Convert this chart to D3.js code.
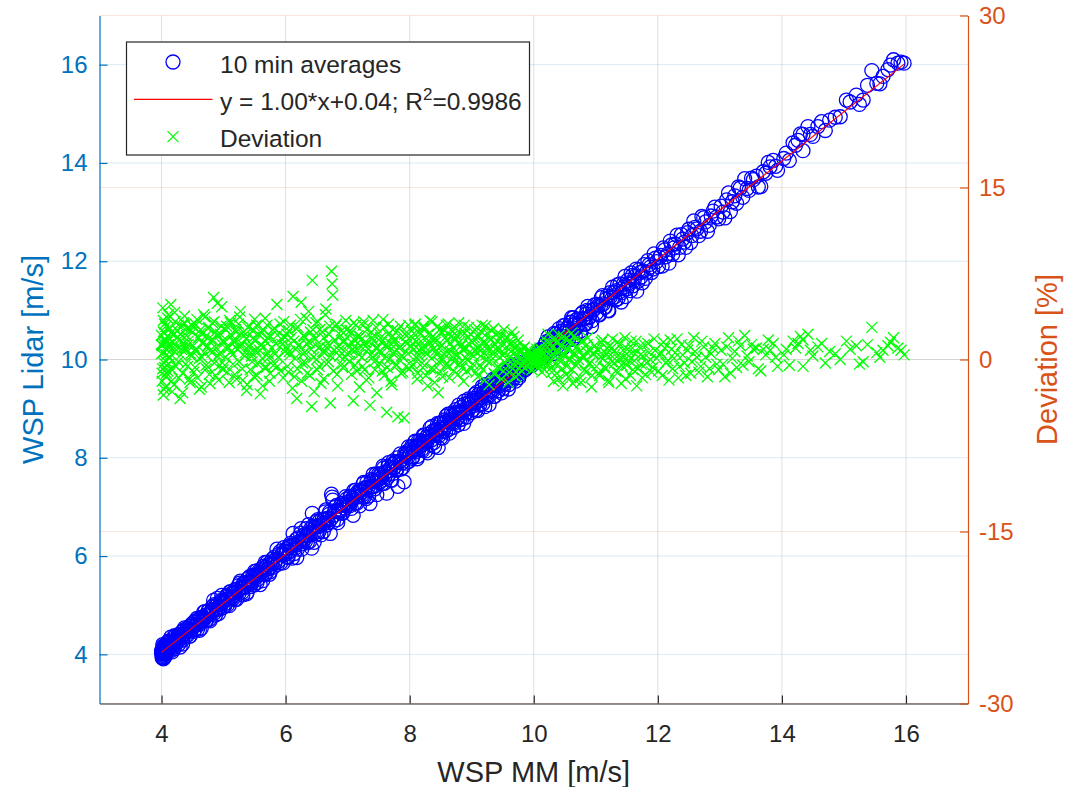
<!DOCTYPE html>
<html>
<head>
<meta charset="utf-8">
<script src="https://cdn.jsdelivr.net/npm/d3@7"></script>
<style>
    body { margin: 0; background: #fff; }
    svg text { font-family: "Liberation Sans", Arial, sans-serif; }
</style>
</head>
<body>
<svg id="chart" width="1078" height="787"></svg>
<script>
// 10 min averages: mast (MM) speed, lidar speed, deviation in %
const wspMM = [
    4.01,4.02,4.03,4.00,4.04,4.05,4.06,4.02,4.07,4.08,4.03,4.09,4.11,4.12,4.10,4.14,4.13,4.16,4.15,4.18,4.19,4.17,4.21,4.22,4.24,4.20,4.27,4.26,4.29,4.30,4.31,4.33,4.35,4.34,4.37,4.38,4.40,4.42,4.43,4.45,4.46,4.48,4.49,4.06,4.12,
    4.00,4.01,4.03,4.05,4.04,4.08,
    4.51,4.52,4.54,4.55,4.57,4.58,4.60,4.61,4.63,4.64,4.66,4.68,4.69,4.71,4.72,4.74,4.75,4.77,4.79,4.80,4.82,4.84,4.85,4.87,4.88,4.90,4.92,4.93,4.95,4.97,4.98,4.99,
    5.01,5.03,5.05,5.06,5.08,5.10,5.12,5.13,5.15,5.17,5.19,5.21,5.22,5.24,5.27,5.28,5.30,5.32,5.34,5.36,5.38,5.40,5.42,5.44,5.46,5.48,5.50,5.52,5.54,5.56,5.59,5.60,5.62,5.64,5.66,5.68,5.70,5.72,5.74,5.76,5.78,5.80,5.82,5.84,5.86,5.88,5.90,5.92,5.95,5.97,5.99,
    6.01,6.03,6.05,6.07,6.09,6.12,6.14,6.16,6.18,6.20,6.22,6.25,6.27,6.29,6.31,6.33,6.35,6.38,6.40,6.42,6.43,6.45,6.47,6.49,6.51,6.53,6.55,6.57,6.60,6.62,6.64,6.66,6.68,6.70,6.72,6.74,6.75,6.76,6.78,6.80,6.83,6.85,6.87,6.90,6.92,6.94,6.97,6.99,
    7.01,7.03,7.05,7.07,7.09,7.11,7.13,7.15,7.18,7.20,7.22,7.24,7.26,7.28,7.30,7.33,7.36,7.38,7.40,7.42,7.44,7.46,7.48,7.51,7.53,7.55,7.57,7.59,7.61,7.63,7.65,7.67,7.69,7.71,7.73,7.75,7.77,7.79,7.81,7.83,7.85,7.87,7.89,7.91,7.93,7.95,7.97,7.99,
    8.01,8.03,8.05,8.07,8.09,8.11,8.13,8.15,8.17,8.19,8.21,8.23,8.25,8.27,8.29,8.31,8.33,8.35,8.37,8.39,8.41,8.43,8.45,8.47,8.49,8.51,8.53,8.55,8.57,8.59,8.61,8.63,8.65,8.67,8.69,8.71,8.73,8.75,8.77,8.79,8.81,8.83,8.85,8.87,8.89,8.91,8.93,8.95,8.97,8.99,8.46,
    9.01,9.03,9.05,9.07,9.09,9.11,9.13,9.15,9.17,9.19,9.21,9.23,9.25,9.27,9.29,9.31,9.33,9.35,9.37,9.39,9.41,9.43,9.45,9.47,9.49,9.51,9.53,9.55,9.57,9.59,9.61,9.63,9.65,9.67,9.69,9.71,9.73,9.75,9.77,9.79,
    9.81,9.83,9.85,9.87,9.89,9.91,9.93,9.95,9.96,9.97,9.98,9.99,
    10.00,10.01,10.02,10.03,10.04,10.05,10.06,10.07,10.08,10.09,10.10,10.11,10.12,10.14,10.15,10.17,10.19,10.21,10.23,10.25,
    10.27,10.29,10.31,10.33,10.35,10.38,10.40,10.42,10.44,10.46,10.48,10.50,10.52,10.55,10.57,10.59,10.61,10.63,10.65,10.68,10.70,10.72,10.75,10.77,10.80,10.82,10.85,10.87,10.90,10.93,10.95,10.98,
    11.01,11.04,11.06,11.09,11.12,11.15,11.18,11.21,11.24,11.27,11.30,11.33,11.36,11.39,11.42,11.45,11.48,11.51,11.54,11.57,11.60,11.63,11.66,11.70,11.73,11.76,11.80,11.84,11.88,11.92,11.96,
    12.01,12.05,12.09,12.13,12.18,12.22,12.26,12.31,12.35,12.40,12.45,12.50,12.55,12.60,12.66,12.71,12.77,12.83,12.89,12.95,
    13.02,13.08,13.14,13.20,13.27,13.33,13.40,13.47,13.54,13.59,13.66,13.74,13.81,13.86,13.93,
    14.07,14.18,14.26,14.34,14.34,14.42,14.50,14.64,14.77,14.94,15.04,15.20,15.31,15.45,15.53,15.63,15.71,15.80,15.87,15.97,
    // second block of records
    4.00,4.01,4.02,4.03,4.04,4.05,4.06,4.07,4.08,4.09,4.10,4.11,4.13,4.15,4.17,4.19,4.21,4.23,4.25,4.27,4.28,4.30,4.32,4.34,4.36,4.38,4.39,4.41,4.43,4.45,4.47,4.50,4.52,4.54,4.56,4.59,4.61,4.63,4.65,4.67,4.70,4.72,4.74,4.76,4.78,4.81,4.83,4.85,4.87,4.89,4.91,4.94,4.96,4.98,
    5.02,5.04,5.07,5.09,5.11,5.14,5.16,5.18,5.20,5.23,5.25,5.26,5.29,5.31,5.33,5.35,5.37,5.39,5.41,5.43,5.45,5.47,5.49,5.51,5.53,5.55,5.58,5.61,5.63,5.65,5.67,5.69,5.71,5.73,5.75,5.79,5.83,5.87,5.91,5.94,5.96,5.98,
    6.02,6.04,6.06,6.08,6.11,6.13,6.15,6.17,6.19,6.21,6.24,6.26,6.28,6.30,6.32,6.34,6.37,6.39,6.41,6.44,6.46,6.48,6.50,6.52,6.54,6.56,6.59,6.61,6.63,6.65,6.67,6.69,6.71,6.73,6.77,6.79,6.82,6.84,6.86,6.89,6.91,6.93,6.96,6.98,
    7.02,7.04,7.06,7.08,7.10,7.12,7.14,7.17,7.19,7.21,7.23,7.25,7.27,7.29,7.31,7.34,7.37,7.39,7.41,7.43,7.45,7.47,7.50,7.52,7.54,7.56,7.58,7.60,7.62,7.64,7.66,7.68,7.70,7.72,7.74,7.76,7.78,7.80,7.84,7.86,7.88,7.92,7.94,7.96,7.98,
    8.02,8.04,8.06,8.08,8.10,8.12,8.14,8.16,8.18,8.20,8.22,8.24,8.26,8.28,8.30,8.32,8.34,8.36,8.38,8.40,8.42,8.44,8.48,8.50,8.52,8.54,8.56,8.58,8.60,8.62,8.64,8.66,8.68,8.70,8.72,8.74,8.76,8.78,8.80,8.82,8.84,8.86,8.88,8.90,8.92,8.94,8.96,8.98,
    9.02,9.04,9.06,9.08,9.10,9.12,9.14,9.16,9.18,9.20,9.22,9.24,9.26,9.28,9.30,9.32,9.34,9.36,9.38,9.40,9.42,9.44,9.46,9.48,9.50,9.52,9.54,9.56,9.58,9.60,9.62,9.64,9.66,9.68,9.70,9.72,9.74,9.76,9.78,9.80,9.82,9.84,9.86,9.88,9.90,9.92,9.94,
    10.00,10.01,10.02,10.03,10.04,10.05,10.06,10.08,10.10,10.12,10.13,10.16,10.18,10.20,10.24,
    10.28,10.30,10.32,10.34,10.36,10.37,10.39,10.41,10.43,10.45,10.47,10.49,10.51,10.53,10.54,10.56,10.58,10.60,10.62,10.64,10.66,10.67,10.69,10.71,10.74,10.76,10.79,10.81,10.84,10.86,10.89,10.91,10.94,10.97,
    11.02,11.05,11.08,11.11,11.14,11.17,11.20,11.23,11.26,11.29,11.32,11.35,11.38,11.41,11.44,11.47,11.50,11.53,11.56,11.59,11.62,11.65,11.68,11.72,11.75,11.78,11.82,11.86,11.90,11.94,11.98,
    12.03,12.07,12.11,12.16,12.20,12.24,12.28,12.33,12.38,12.43,12.48,12.53,12.58,12.63,12.69,12.74,12.80,12.86,12.92,12.98,
    13.05,13.11,13.17,13.24,13.30,13.37,13.44,13.51,13.62,13.70,13.78,13.90,
    14.03,14.12,14.22,14.30,14.46,14.58,14.70,14.86,15.10,15.25,15.38,15.58,15.75,15.92
];
const wspLidar = [
    4.06,3.99,4.13,4.02,3.93,4.18,4.13,4.20,4.01,4.12,3.91,4.17,4.16,4.10,4.25,4.25,4.14,4.08,4.35,4.24,4.28,4.13,4.24,4.36,4.29,4.11,4.26,4.37,4.37,4.15,4.33,4.46,4.41,4.29,4.54,4.42,4.49,4.39,4.50,4.57,4.37,4.49,4.62,4.06,4.16,
    4.05,3.96,4.08,4.02,4.10,4.03,
    4.56,4.65,4.51,4.59,4.73,4.51,4.69,4.61,4.74,4.53,4.73,4.86,4.72,4.80,4.70,4.79,4.88,4.71,4.83,4.88,4.97,5.10,4.84,4.99,4.93,5.14,4.83,4.95,5.06,5.20,5.04,4.95,
    5.09,5.04,5.20,5.00,5.13,5.27,5.16,5.24,5.13,5.25,5.32,5.12,5.27,5.40,5.49,5.34,5.26,5.45,5.36,5.46,5.26,5.46,5.58,5.47,5.45,5.58,5.69,5.56,5.46,5.68,5.42,5.67,5.63,5.79,5.62,5.77,5.87,5.75,5.63,5.88,5.84,5.77,5.98,5.92,6.14,5.89,6.04,5.86,6.05,6.17,6.03,
    6.08,5.99,6.20,6.09,6.21,6.46,6.05,6.22,5.97,6.37,6.30,6.56,6.25,6.42,6.35,6.56,6.27,6.48,6.55,6.16,6.87,6.46,6.59,6.70,6.45,6.60,6.72,6.43,6.65,6.75,6.90,6.63,6.77,6.85,6.46,7.26,7.20,7.14,6.83,7.00,6.74,6.93,6.89,7.07,6.87,7.05,7.21,7.02,
    7.10,7.02,7.21,7.13,6.83,7.23,7.34,7.08,7.21,7.34,7.30,7.20,7.50,7.39,7.17,7.40,7.07,7.56,7.41,7.54,7.37,7.67,7.55,7.49,7.67,7.60,7.83,7.48,7.70,7.28,7.82,7.67,7.80,7.54,7.93,7.80,7.91,7.75,7.42,7.91,8.08,7.89,7.80,7.51,8.05,8.12,8.01,7.93,
    8.11,8.23,8.02,8.14,8.34,8.24,8.03,8.17,8.35,8.27,8.15,8.45,8.30,8.42,8.10,8.42,8.61,8.36,8.54,8.31,8.54,8.50,8.70,8.45,8.58,8.71,8.40,8.59,8.73,8.85,8.67,8.58,8.77,8.90,8.71,8.62,8.88,8.93,8.81,9.07,8.78,8.94,8.93,8.70,9.09,9.00,8.93,9.20,9.09,8.92,8.21,
    9.15,9.06,9.29,8.97,9.18,9.29,9.08,9.22,9.45,9.32,9.04,9.27,9.46,9.37,9.27,9.48,9.39,9.60,9.25,9.47,9.56,9.36,9.47,9.67,9.60,9.41,9.58,9.73,9.57,9.40,9.73,9.70,9.88,9.63,9.79,9.56,9.76,9.92,9.69,9.85,
    9.82,9.80,9.96,9.91,9.83,9.93,10.01,9.93,10.01,9.88,9.98,10.02,
    9.99,10.05,9.98,10.04,10.11,10.03,10.08,10.00,10.13,10.09,10.20,10.06,10.15,10.13,10.21,10.08,10.32,10.22,10.46,10.22,
    10.41,10.18,10.36,10.53,10.31,10.46,10.22,10.44,10.57,10.38,10.69,10.54,10.38,10.64,10.56,10.76,10.85,10.41,10.71,10.63,10.82,10.72,10.58,10.93,10.83,10.72,10.93,11.08,10.87,10.67,11.00,11.11,
    10.94,11.09,10.91,11.26,11.13,11.06,11.29,10.99,11.28,11.47,11.27,11.40,11.24,11.54,11.36,11.47,11.28,11.61,11.53,11.76,11.50,11.69,11.39,11.83,11.68,11.80,11.65,12.01,11.88,11.84,12.06,
    11.89,12.12,12.27,12.09,11.96,12.33,12.27,12.53,12.28,12.45,12.28,12.65,12.52,12.69,12.52,12.91,12.80,12.73,13.02,12.90,
    13.12,12.88,13.39,13.21,13.18,13.49,13.68,13.44,13.66,13.73,13.52,13.79,13.92,14.05,13.85,
    14.20,14.41,14.46,14.58,14.25,14.74,14.54,14.84,14.87,14.94,15.28,15.38,15.28,15.88,15.62,15.76,15.90,16.10,16.03,16.03,
    // second block of records
    4.08,3.93,4.04,4.17,4.03,4.12,3.96,4.19,4.10,4.15,4.06,4.27,4.13,4.25,4.05,4.24,4.38,4.20,4.33,4.40,4.21,4.39,4.36,4.21,4.50,4.42,4.37,4.53,4.49,4.37,4.49,4.61,4.47,4.68,4.60,4.68,4.49,4.75,4.66,4.74,4.87,4.68,4.80,4.89,4.68,4.84,4.91,5.01,4.80,4.99,4.92,4.92,5.10,5.06,
    4.99,5.17,5.13,4.99,5.27,5.16,5.25,5.11,5.32,5.28,5.24,5.45,5.36,5.21,5.44,5.38,5.23,5.54,5.47,5.38,5.47,5.61,5.41,5.60,5.70,5.53,5.62,5.74,5.50,5.71,5.87,5.65,5.82,5.74,5.68,5.94,5.86,5.83,6.09,6.02,5.86,6.10,
    6.15,5.97,6.10,6.26,5.96,6.23,6.16,6.34,6.14,6.28,6.46,6.14,6.31,6.43,6.30,6.43,6.64,6.30,6.47,6.61,6.28,6.60,6.50,6.74,6.50,6.63,6.75,6.50,6.67,6.94,6.74,6.68,6.90,6.75,6.70,6.91,7.03,6.68,6.91,7.03,6.88,7.03,6.97,7.16,
    7.06,7.22,6.97,7.18,7.33,7.08,7.20,7.32,7.02,7.33,7.24,7.47,7.20,7.38,7.50,7.22,7.40,7.53,7.66,7.42,7.52,7.25,7.67,7.57,7.65,7.48,7.79,7.61,7.72,7.59,7.90,7.74,7.55,7.87,7.78,7.88,7.75,8.00,7.93,7.77,7.90,8.09,7.89,8.07,8.22,
    8.18,7.99,8.16,8.32,8.12,7.98,8.34,8.23,8.31,8.18,8.46,8.33,8.14,8.32,8.48,8.44,8.27,8.64,8.46,8.23,8.57,8.47,8.70,8.41,8.62,8.54,8.77,8.54,8.75,8.89,8.50,8.72,8.85,8.79,8.70,8.98,8.79,8.67,8.93,9.02,8.78,8.94,9.15,8.91,8.83,9.11,9.01,9.18,
    8.98,9.21,9.12,9.33,8.96,9.23,9.17,9.38,9.10,9.35,9.49,9.23,9.33,9.08,9.46,9.55,9.35,9.25,9.50,9.61,9.36,9.52,9.63,9.32,9.54,9.77,9.51,9.67,9.76,9.49,9.64,9.77,9.58,9.87,9.76,9.70,9.86,9.63,9.86,9.75,9.86,9.94,9.79,9.90,9.96,9.88,9.95,
    10.03,9.98,10.08,9.97,10.04,10.14,10.02,10.10,10.08,10.20,10.02,10.20,10.15,10.36,10.29,
    10.21,10.40,10.12,10.37,10.52,10.25,10.45,10.63,10.41,10.58,10.23,10.53,10.70,10.47,10.63,10.40,10.59,10.75,10.52,10.85,10.71,10.48,10.81,10.68,10.82,10.54,10.96,10.83,10.72,11.00,10.85,11.00,10.79,11.02,
    11.12,10.92,11.10,11.30,11.07,11.23,11.00,11.36,11.24,11.37,11.21,11.52,11.38,11.17,11.53,11.69,11.44,11.56,11.40,11.71,11.61,11.84,11.59,11.77,11.56,11.93,11.78,11.93,11.77,12.15,11.99,
    12.08,11.90,12.23,12.15,12.41,12.14,12.35,12.13,12.54,12.39,12.58,12.38,12.82,12.66,12.61,12.88,12.61,12.92,13.10,12.86,
    13.00,13.25,13.01,13.33,13.51,13.30,13.48,13.69,13.51,13.82,14.01,13.93,
    14.09,14.05,14.36,14.59,14.58,14.74,14.66,14.93,15.24,15.19,15.58,15.61,15.99,16.05
];
const deviationPct = [
    1.2,-0.8,2.4,0.5,-2.6,3.1,1.7,4.5,-1.5,0.9,-3.1,2.0,1.3,-0.4,3.6,2.7,0.2,-1.9,4.8,1.5,2.2,-0.9,0.7,3.3,1.1,-2.2,-0.2,2.5,1.8,-3.4,0.4,2.9,1.4,-1.2,3.8,0.8,2.1,-0.6,1.6,2.6,-2.0,0.3,3.0,-0.1,1.0,
    1.3,-1.2,1.4,-0.7,1.6,-1.2,
    1.2,2.8,-0.7,0.9,3.5,-1.6,1.9,0.1,2.3,-2.4,1.4,3.9,0.6,2.0,-0.5,1.1,2.7,-1.3,0.8,1.7,3.2,5.4,-0.3,2.4,1.0,4.9,-1.8,0.5,2.2,4.6,1.3,-0.9,
    1.6,0.2,2.9,-1.1,1.0,3.4,0.7,2.1,-0.4,1.5,2.6,-1.7,0.9,3.1,4.2,1.2,-0.8,2.4,0.3,1.8,-2.2,1.1,2.9,0.6,-0.2,1.9,3.5,0.8,-1.4,2.2,-3.0,1.3,0.1,2.6,-0.7,1.6,3.0,0.5,-1.9,2.0,1.0,-0.5,2.7,1.4,4.8,0.2,2.3,-1.0,1.7,3.3,0.7,
    1.1,-0.6,2.5,0.4,1.9,5.5,-1.5,0.9,-3.4,2.8,1.3,5.0,-0.3,2.1,0.6,3.6,-1.2,1.5,2.4,-4.1,6.9,0.2,1.8,3.2,-0.9,1.0,2.6,-2.1,0.7,1.9,3.9,-0.4,1.4,2.2,-3.8,7.7,6.6,5.6,0.8,2.9,-1.3,1.2,0.3,2.5,-0.7,1.6,3.4,0.5,
    1.3,-0.2,2.3,0.8,-3.6,1.7,3.0,-1.0,0.4,2.0,1.1,-0.6,3.3,1.5,-1.8,0.9,-4.0,2.4,0.2,1.6,-0.9,2.8,1.0,-0.3,1.9,0.6,3.5,-1.4,1.2,-4.6,2.2,0.0,1.4,-2.2,2.6,0.7,1.8,-0.5,-5.0,1.0,2.9,0.3,-1.1,-5.1,1.5,2.1,0.5,-0.8,
    1.2,2.5,-0.4,0.9,3.1,1.6,-1.2,0.3,2.2,1.0,-0.7,2.7,0.6,1.8,-2.3,1.3,3.4,0.1,2.0,-0.9,1.5,0.8,2.9,-0.2,1.1,2.4,-1.5,0.5,1.9,3.0,0.7,-0.6,1.4,2.6,0.2,-1.0,1.7,2.1,0.4,3.2,-0.3,1.2,0.9,-1.9,2.3,1.0,0.0,2.8,1.3,-0.8,-2.9,
    1.5,0.3,2.6,-1.1,1.0,2.0,-0.5,0.8,3.0,1.4,-1.8,0.4,2.3,1.1,-0.2,1.8,0.6,2.7,-1.3,0.9,1.6,-0.7,0.2,2.1,1.2,-1.0,0.5,1.9,0.0,-2.0,1.3,0.7,2.4,-0.4,1.0,-1.5,0.3,1.7,-0.8,0.6,
    0.1,-0.3,1.1,0.4,-0.6,0.2,0.8,-0.2,0.5,-0.9,0.0,0.3,
    -0.1,0.4,-0.4,0.1,0.7,-0.2,0.2,-0.7,0.5,0.0,1.0,-0.5,0.3,-0.1,0.6,-0.9,1.3,0.1,2.2,-0.3,
    1.4,-1.1,0.5,1.9,-0.4,0.8,-1.7,0.2,1.2,-0.8,2.0,0.4,-1.3,0.9,-0.1,1.6,2.3,-2.1,0.6,-0.5,1.1,0.0,-1.6,1.5,0.3,-0.9,0.7,1.9,-0.3,-2.4,0.5,1.2,
    -0.6,0.8,-1.4,1.5,0.1,-0.8,1.0,-2.0,0.4,1.8,-0.3,0.6,-1.1,1.3,-0.5,0.2,-1.7,0.9,-0.1,1.6,-0.9,0.5,-2.3,1.1,-0.4,0.3,-1.3,1.4,0.0,-0.7,0.8,
    -1.0,0.6,1.5,-0.3,-1.8,0.9,0.1,1.8,-0.6,0.4,-1.4,1.2,-0.2,0.7,-1.1,1.6,0.2,-0.8,1.0,-0.4,
    0.8,-1.5,1.9,0.1,-0.7,1.2,2.1,-0.2,0.9,1.0,-1.0,0.4,0.8,1.4,-0.6,
    0.9,1.6,1.4,1.7,-0.6,2.2,0.3,1.4,0.7,0.0,1.6,1.2,-0.2,2.8,0.6,0.8,1.2,1.9,1.0,0.4,
    // second block of records
    2.1,-1.9,0.6,3.4,-0.3,1.8,-2.4,2.9,0.4,1.5,-1.0,3.9,0.1,2.3,-2.8,1.1,4.1,-0.6,1.9,3.0,-1.6,2.2,0.9,-2.9,3.2,1.0,-0.4,2.7,1.3,-1.7,0.5,2.4,-1.1,3.1,0.8,1.9,-2.6,2.6,0.2,1.5,3.7,-0.8,1.2,2.8,-2.1,0.6,1.7,3.3,-1.4,2.1,0.3,-0.5,2.9,1.6,
    -0.5,2.6,1.1,-2.0,3.2,0.4,1.7,-1.3,2.4,0.9,-0.2,3.7,1.4,-1.8,2.1,0.6,-2.7,2.8,1.2,-0.9,0.3,2.5,-1.5,1.6,3.0,-0.4,0.8,2.3,-2.3,1.1,3.6,-0.7,1.9,0.2,-1.2,2.6,0.5,-0.6,3.1,1.3,-1.6,2.0,
    2.2,-1.1,0.7,3.0,-2.5,1.6,0.1,2.7,-0.8,1.2,3.5,-1.9,0.5,2.0,-0.3,1.4,4.2,-1.4,0.9,2.6,-2.8,1.8,0.0,3.3,-0.6,1.1,2.4,-1.7,0.6,4.4,1.0,-0.2,2.9,0.3,-1.0,1.7,3.1,-2.3,0.8,2.1,-0.4,1.5,0.2,2.6,
    0.6,2.5,-1.3,1.4,3.2,-0.5,0.9,2.1,-2.4,1.7,0.2,3.0,-0.9,1.2,2.6,-1.6,0.4,1.9,3.4,-0.2,1.0,-2.9,2.3,0.7,1.5,-1.0,2.8,0.1,1.3,-0.7,3.1,0.8,-1.9,2.0,0.5,1.6,-0.4,2.5,1.1,-1.2,0.3,2.2,-0.6,1.4,3.0,
    2.0,-0.6,1.3,3.0,0.2,-1.7,2.4,0.8,1.6,-0.3,2.9,1.1,-1.4,0.5,2.2,1.5,-0.8,3.3,0.9,-2.0,1.8,0.4,2.6,-1.1,1.2,0.0,2.5,-0.5,1.7,3.1,-1.6,0.7,2.0,1.0,-0.2,2.7,0.3,-1.3,1.5,2.3,-0.7,0.9,3.0,0.1,-1.0,1.9,0.6,2.2,
    -0.4,1.9,0.7,2.8,-1.5,1.2,0.3,2.4,-0.9,1.6,2.9,-0.1,0.8,-2.2,1.7,2.5,0.1,-1.2,1.3,2.2,-0.6,0.9,1.8,-1.7,0.4,2.6,-0.3,1.1,1.9,-1.1,0.2,1.4,-0.8,2.0,0.6,-0.2,1.2,-1.3,0.8,-0.5,0.4,1.0,-0.7,0.2,0.6,-0.4,0.1,
    0.3,-0.3,0.6,-0.6,0.0,0.9,-0.4,0.2,-0.2,0.8,-1.1,0.4,-0.3,1.6,0.5,
    -0.7,1.0,-1.9,0.3,1.5,-1.2,0.6,2.1,-0.2,1.2,-2.3,0.4,1.8,-0.6,0.9,-1.5,0.1,1.4,-0.9,2.0,0.5,-1.8,1.1,-0.3,0.7,-2.0,1.6,0.2,-1.1,1.3,-0.4,0.8,-1.4,0.5,
    0.9,-1.2,0.2,1.7,-0.6,0.5,-1.8,1.2,-0.2,0.7,-1.0,1.5,0.0,-2.1,0.8,1.9,-0.5,0.3,-1.4,1.0,-0.1,1.6,-0.8,0.4,-1.6,1.3,-0.3,0.6,-1.1,1.8,0.1,
    0.4,-1.4,1.0,-0.1,1.7,-0.8,0.6,-1.6,1.3,-0.3,0.8,-1.2,1.9,0.2,-0.6,1.1,-1.5,0.5,1.4,-0.9,
    -0.4,1.1,-1.2,0.7,1.6,-0.5,0.3,1.3,-0.8,0.9,1.7,0.2,
    0.4,-0.5,1.0,2.0,0.8,1.1,-0.3,0.5,0.9,-0.4,1.3,0.2,1.5,0.8
];

// linear fit drawn between the first and last MM value
const fitX = [4.00, 15.97];
const fitY = [4.04, 16.01];

const xTicks = [4, 6, 8, 10, 12, 14, 16];
const leftTicks = [4, 6, 8, 10, 12, 14, 16];
const rightTicks = [-30, -15, 0, 15, 30];
const legendLabels = ['10 min averages', 'y = 1.00*x+0.04; R', 'Deviation'];

const blue = '#0072BD', orange = '#D95319', dark = '#262626';
const font = '"Liberation Sans", Arial, sans-serif';

const svg = d3.select('#chart');

const x = d3.scaleLinear().domain([3, 17]).range([99.5, 968]);
const yL = d3.scaleLinear().domain([3, 17]).range([703.5, 15.5]);
const yR = d3.scaleLinear().domain([-30, 30]).range([703.5, 15.5]);

// grid lines
const grid = svg.append('g');
grid.selectAll('.gx').data(xTicks).enter().append('line')
    .attr('x1', d => x(d)).attr('x2', d => x(d))
    .attr('y1', 15.5).attr('y2', 703.5)
    .attr('stroke', dark).attr('stroke-opacity', 0.15);
grid.selectAll('.gl').data(leftTicks).enter().append('line')
    .attr('x1', 99.5).attr('x2', 968)
    .attr('y1', d => yL(d)).attr('y2', d => yL(d))
    .attr('stroke', blue).attr('stroke-opacity', 0.15);
grid.selectAll('.gr').data(rightTicks).enter().append('line')
    .attr('x1', 99.5).attr('x2', 968)
    .attr('y1', d => yR(d)).attr('y2', d => yR(d))
    .attr('stroke', orange).attr('stroke-opacity', 0.15);

const n = Math.min(wspMM.length, wspLidar.length, deviationPct.length);
const idx = d3.range(n);

// lidar vs mast
svg.append('g').selectAll('circle').data(idx).enter().append('circle')
    .attr('cx', i => x(wspMM[i]))
    .attr('cy', i => yL(wspLidar[i]))
    .attr('r', 7)
    .attr('fill', 'none')
    .attr('stroke', '#0000ff')
    .attr('stroke-width', 1.3);

// fit line
svg.append('path')
    .datum(d3.range(fitX.length))
    .attr('fill', 'none')
    .attr('stroke', '#ff0000')
    .attr('stroke-width', 1.2)
    .attr('d', d3.line().x(i => x(fitX[i])).y(i => yL(fitY[i])));

// deviation crosses on the right axis
const cross = 'M-5.5,-5.5L5.5,5.5M-5.5,5.5L5.5,-5.5';
svg.append('g').selectAll('path').data(idx).enter().append('path')
    .attr('transform', i => 'translate(' + x(wspMM[i]) + ',' + yR(deviationPct[i]) + ')')
    .attr('d', cross)
    .attr('stroke', '#00ff00')
    .attr('stroke-width', 1.3)
    .attr('fill', 'none');

// axes
function styleAxis(g, color) {
    g.attr('font-family', font).attr('font-size', 24);
    g.select('.domain').attr('stroke', color).attr('stroke-width', 1.2);
    g.selectAll('.tick line').attr('stroke', color).attr('stroke-width', 1.2);
    g.selectAll('.tick text').attr('fill', color);
}
const plain = d => String(d);

svg.append('g')
    .attr('transform', 'translate(0,703.5)')
    .call(d3.axisBottom(x).tickValues(xTicks).tickFormat(plain).tickSizeInner(-8).tickSizeOuter(0).tickPadding(21))
    .call(g => styleAxis(g, dark));

svg.append('g')
    .attr('transform', 'translate(99.5,0)')
    .call(d3.axisLeft(yL).tickValues(leftTicks).tickFormat(plain).tickSizeInner(-8).tickSizeOuter(0).tickPadding(12))
    .call(g => styleAxis(g, blue));

svg.append('g')
    .attr('transform', 'translate(968,0)')
    .call(d3.axisRight(yR).tickValues(rightTicks).tickFormat(plain).tickSizeInner(-8).tickSizeOuter(0).tickPadding(11))
    .call(g => styleAxis(g, orange));

// axis labels
svg.append('text')
    .attr('x', 533.75).attr('y', 782)
    .attr('text-anchor', 'middle')
    .attr('font-size', 29).attr('fill', dark)
    .text('WSP MM [m/s]');

svg.append('text')
    .attr('transform', 'translate(43,359.5) rotate(-90)')
    .attr('text-anchor', 'middle')
    .attr('font-size', 29).attr('fill', blue)
    .text('WSP Lidar [m/s]');

svg.append('text')
    .attr('transform', 'translate(1057,359.5) rotate(-90)')
    .attr('text-anchor', 'middle')
    .attr('font-size', 29).attr('fill', orange)
    .text('Deviation [%]');

// legend
const legend = svg.append('g');
legend.append('rect')
    .attr('x', 126.5).attr('y', 42)
    .attr('width', 403).attr('height', 113)
    .attr('fill', '#fff')
    .attr('stroke', dark).attr('stroke-width', 1.2);

const rowY = [62, 99.3, 136.6];
legend.append('circle')
    .attr('cx', 173).attr('cy', rowY[0]).attr('r', 7)
    .attr('fill', 'none').attr('stroke', '#0000ff').attr('stroke-width', 1.3);
legend.append('line')
    .attr('x1', 134).attr('x2', 212.5)
    .attr('y1', rowY[1]).attr('y2', rowY[1])
    .attr('stroke', '#ff0000').attr('stroke-width', 1.2);
legend.append('path')
    .attr('transform', 'translate(173,' + rowY[2] + ')')
    .attr('d', cross)
    .attr('stroke', '#00ff00').attr('stroke-width', 1.3).attr('fill', 'none');

legend.selectAll('.lt').data(legendLabels).enter().append('text')
    .attr('x', 220)
    .attr('y', (d, i) => rowY[i] + 10.5)
    .attr('font-size', 24.5)
    .attr('fill', dark)
    .each(function (d, i) {
        const t = d3.select(this);
        t.append('tspan').text(d);
        if (i === 1) {
            t.append('tspan').attr('dy', -10).attr('font-size', 17).text('2');
            t.append('tspan').attr('dy', 10).text('=0.9986');
        }
    });
</script>
</body>
</html>
